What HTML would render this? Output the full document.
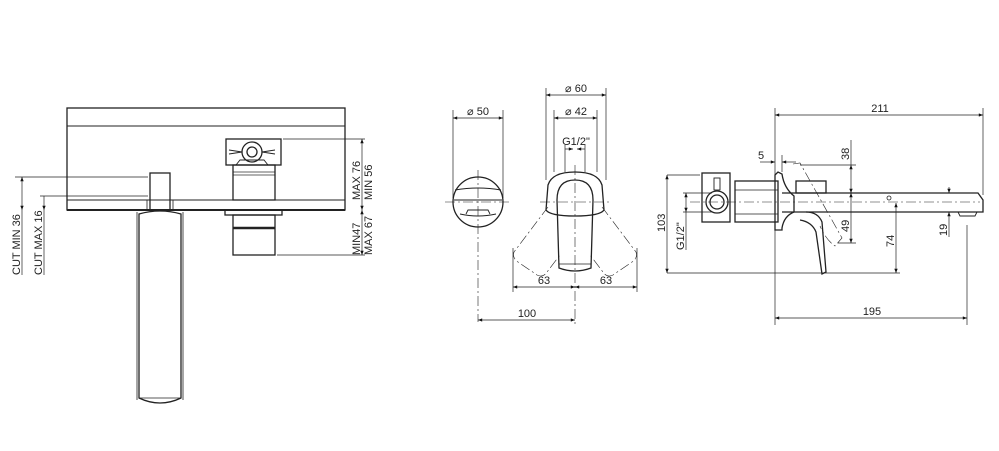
<!DOCTYPE html>
<html><head><meta charset="utf-8"><style>
html,body{margin:0;padding:0;background:#fff;}
svg{display:block}
text{font-family:"Liberation Sans",sans-serif;font-size:11px;fill:#222}
</style></head><body>
<svg width="999" height="451" viewBox="0 0 999 451" xmlns="http://www.w3.org/2000/svg">
<defs>
<marker id="a" viewBox="0 0 10 10" refX="10" refY="5" markerWidth="8" markerHeight="6" orient="auto-start-reverse"><path d="M0,1 L10,5 L0,9z" fill="#111"/></marker>
</defs>
<g fill="none" stroke="#222" stroke-width="1.3">
<!-- LEFT VIEW -->
<rect x="67" y="108" width="278" height="102"/>
<line x1="67" y1="126" x2="345" y2="126" stroke-width="0.9"/>
<line x1="67" y1="200" x2="345" y2="200" stroke-width="0.9"/>
<line x1="67" y1="210" x2="345" y2="210" stroke-width="2"/>
<rect x="150" y="173" width="20" height="37"/>
<rect x="147" y="200" width="26" height="10" stroke-width="0.8"/>
<path d="M139,214 L139,398 Q160,408 181,398 L181,214 Q160,208 139,214z"/>
<path d="M137,212 L137,400 M183,212 L183,400" stroke-width="0.8"/>
<line x1="139" y1="398" x2="181" y2="398" stroke-width="0.8"/>
<rect x="226" y="139" width="55" height="26"/>
<circle cx="252" cy="152" r="10"/><circle cx="252" cy="152" r="5"/>
<path d="M229,150 L242,152 L229,154 M275,150 L262,152 L275,154" stroke-width="0.9"/>
<path d="M236,165 L240,160 L264,160 L268,165" stroke-width="0.9"/>
<rect x="233" y="165" width="42" height="35"/>
<rect x="233" y="172" width="42" height="3" stroke-width="0.7"/>
<rect x="225" y="210" width="57" height="5"/>
<rect x="233" y="215" width="42" height="40"/>
<line x1="233" y1="228" x2="275" y2="228" stroke-width="2.5"/>
<g stroke-width="0.7">
<line x1="15" y1="177" x2="148" y2="177"/><line x1="40" y1="196" x2="148" y2="196"/>
<line x1="283" y1="139" x2="365" y2="139"/><line x1="277" y1="255" x2="365" y2="255"/>
<line x1="22" y1="177" x2="22" y2="210" marker-start="url(#a)" marker-end="url(#a)"/>
<line x1="44" y1="196" x2="44" y2="210" marker-end="url(#a)"/>
<line x1="44" y1="210" x2="44" y2="275"/><line x1="22" y1="210" x2="22" y2="275"/>
<line x1="362" y1="139" x2="362" y2="210" marker-start="url(#a)" marker-end="url(#a)"/>
<line x1="362" y1="210" x2="362" y2="255" marker-start="url(#a)" marker-end="url(#a)"/>
</g>
<!-- MIDDLE VIEW -->
<circle cx="478" cy="202" r="25"/>
<path d="M455,190 Q478,186 501,190 M454,200 L502,200" stroke-width="0.9"/>
<path d="M466,214 L468,210 L488,210 L490,214 M460,214 Q478,218 496,214" stroke-width="0.9"/>
<g stroke-width="0.6" stroke-dasharray="10,3,2,3">
<line x1="445" y1="202" x2="512" y2="202"/><line x1="478" y1="170" x2="478" y2="322"/>
<line x1="575" y1="165" x2="575" y2="325"/><line x1="540" y1="202" x2="612" y2="202"/>
<path d="M548,207 L514,252 Q512,258 518,262 L537,275 Q543,278 547,272 L560,255"/>
<path d="M602,207 L636,252 Q638,258 632,262 L613,275 Q607,278 603,272 L590,255"/>
</g>
<path d="M548,185 Q552,172 575,172 Q598,172 602,185 L604,210 Q600,216 575,216 Q550,216 546,210z"/>
<path d="M557,200 Q557,180 575,180 Q593,180 593,200 L591,268 Q575,274 559,268z"/>
<line x1="559" y1="264" x2="591" y2="264" stroke-width="0.8"/>
<g stroke-width="0.7">
<line x1="453" y1="110" x2="453" y2="198"/><line x1="503" y1="110" x2="503" y2="198"/>
<line x1="453" y1="118" x2="503" y2="118" marker-start="url(#a)" marker-end="url(#a)"/>
<line x1="546" y1="88" x2="546" y2="180"/><line x1="606" y1="88" x2="606" y2="180"/>
<line x1="546" y1="95" x2="606" y2="95" marker-start="url(#a)" marker-end="url(#a)"/>
<line x1="554" y1="110" x2="554" y2="172"/><line x1="597" y1="110" x2="597" y2="172"/>
<line x1="554" y1="118" x2="597" y2="118" marker-start="url(#a)" marker-end="url(#a)"/>
<line x1="565" y1="145" x2="565" y2="172"/><line x1="585" y1="145" x2="585" y2="172"/>
<line x1="565" y1="149" x2="573" y2="149" marker-end="url(#a)"/><line x1="585" y1="149" x2="577" y2="149" marker-end="url(#a)"/>
<line x1="513" y1="248" x2="513" y2="292"/><line x1="637" y1="248" x2="637" y2="292"/>
<line x1="513" y1="287" x2="575" y2="287" marker-start="url(#a)" marker-end="url(#a)"/>
<line x1="575" y1="287" x2="637" y2="287" marker-start="url(#a)" marker-end="url(#a)"/>
<line x1="478" y1="320" x2="575" y2="320" marker-start="url(#a)" marker-end="url(#a)"/>
</g>
<!-- RIGHT VIEW -->
<rect x="702" y="173" width="28" height="49"/>
<circle cx="717" cy="202" r="11"/><circle cx="717" cy="202" r="7"/>
<rect x="714" y="178" width="6" height="12" stroke-width="0.9"/>
<rect x="735" y="181" width="43" height="41"/>
<line x1="735" y1="190" x2="778" y2="190" stroke-width="0.7"/><line x1="735" y1="214" x2="778" y2="214" stroke-width="0.7"/>
<path d="M775,175 L778,172 L782,174 Q784,188 794,196 L794,212 Q784,216 782,228 L782,230 L775,230z"/>
<rect x="796" y="181" width="30" height="12"/>
<path d="M782,193 L978,193 L983,200 L983,212 L782,212"/>
<path d="M958,212 L960,216 L975,216 L977,212" stroke-width="0.9"/>
<circle cx="889" cy="198" r="2" stroke-width="0.8"/>
<path d="M806,212 Q818,212 822,222 L826,272 L822,274 L816,232 Q812,222 800,220" />
<g stroke-width="0.6" stroke-dasharray="10,3,2,3">
<line x1="690" y1="202" x2="980" y2="202"/>
<path d="M793,164 L800,163 L842,238 L835,246 Q826,240 820,226"/>
</g>
<g stroke-width="0.7">
<line x1="775" y1="108" x2="775" y2="325"/><line x1="983" y1="108" x2="983" y2="195"/>
<line x1="775" y1="115" x2="983" y2="115" marker-start="url(#a)" marker-end="url(#a)"/>
<line x1="967" y1="225" x2="967" y2="325"/>
<line x1="775" y1="318" x2="967" y2="318" marker-start="url(#a)" marker-end="url(#a)"/>
<line x1="760" y1="162" x2="775" y2="162" marker-end="url(#a)"/><line x1="796" y1="162" x2="782" y2="162" marker-end="url(#a)"/>
<line x1="782" y1="155" x2="782" y2="172"/>
<line x1="800" y1="165" x2="856" y2="165"/>
<line x1="851" y1="140" x2="851" y2="165"/>
<line x1="851" y1="165" x2="851" y2="193" marker-start="url(#a)" marker-end="url(#a)"/>
<line x1="851" y1="193" x2="851" y2="243" marker-start="url(#a)" marker-end="url(#a)"/>
<line x1="838" y1="243" x2="856" y2="243"/>
<line x1="896" y1="203" x2="896" y2="273" marker-start="url(#a)" marker-end="url(#a)"/>
<line x1="667" y1="273" x2="900" y2="273"/>
<line x1="949" y1="187" x2="949" y2="193" marker-end="url(#a)"/>
<line x1="949" y1="237" x2="949" y2="212" marker-end="url(#a)"/>
<line x1="667" y1="175" x2="700" y2="175"/>
<line x1="667" y1="175" x2="667" y2="273" marker-start="url(#a)" marker-end="url(#a)"/>
<line x1="683" y1="193" x2="712" y2="193"/><line x1="683" y1="212" x2="712" y2="212"/>
<line x1="686" y1="193" x2="686" y2="212" marker-start="url(#a)" marker-end="url(#a)"/>
<line x1="686" y1="212" x2="686" y2="250"/>
</g>
</g>
<text x="478" y="115" text-anchor="middle">⌀ 50</text>
<text x="576" y="92" text-anchor="middle">⌀ 60</text>
<text x="576" y="115" text-anchor="middle">⌀ 42</text>
<text x="576" y="145" text-anchor="middle">G1/2"</text>
<text x="544" y="284" text-anchor="middle">63</text>
<text x="606" y="284" text-anchor="middle">63</text>
<text x="527" y="317" text-anchor="middle">100</text>
<text x="880" y="112" text-anchor="middle">211</text>
<text x="872" y="315" text-anchor="middle">195</text>
<text x="761" y="159" text-anchor="middle">5</text>
<g font-size="11">
<text transform="translate(20,275) rotate(-90)">CUT MIN 36</text>
<text transform="translate(42,275) rotate(-90)">CUT MAX 16</text>
<text transform="translate(360,200) rotate(-90)">MAX 76</text>
<text transform="translate(372,200) rotate(-90)">MIN 56</text>
<text transform="translate(360,255) rotate(-90)">MIN47</text>
<text transform="translate(372,255) rotate(-90)">MAX 67</text>
<text transform="translate(849,160) rotate(-90)">38</text>
<text transform="translate(849,232) rotate(-90)">49</text>
<text transform="translate(894,247) rotate(-90)">74</text>
<text transform="translate(947,236) rotate(-90)">19</text>
<text transform="translate(665,232) rotate(-90)">103</text>
<text transform="translate(684,250) rotate(-90)">G1/2"</text>
</g>
</svg>
</body></html>
